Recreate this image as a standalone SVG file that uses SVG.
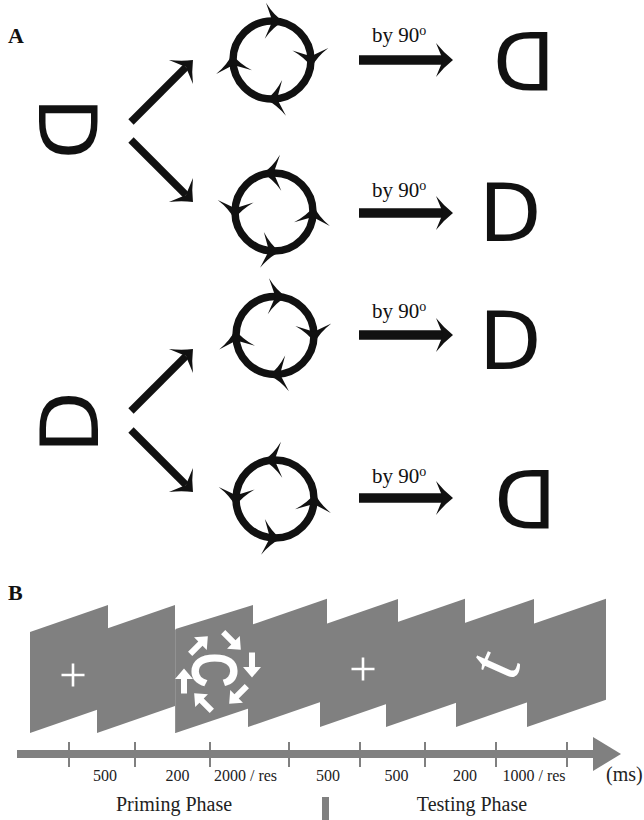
<svg xmlns="http://www.w3.org/2000/svg" width="644" height="820" viewBox="0 0 644 820">
<style>
.lab{font-family:"Liberation Serif",serif;font-weight:bold;font-size:22px;fill:#111}
.dg{font-family:"DejaVu Sans",sans-serif;font-size:81px;fill:#111}
.by{font-family:"Liberation Serif",serif;font-size:21px;fill:#111}
.ring{fill:none;stroke:#111;stroke-width:7.5}
.barb{fill:#111}
.shaft{stroke:#111;stroke-width:7.5;fill:none;marker-end:url(#head)}
.hshaft{stroke:#111;stroke-width:9.5;fill:none;marker-end:url(#head)}
.panel{fill:#808080}
.plus{stroke:#fff;stroke-width:2.6;fill:none}
.warr{fill:#fff}
.tick{stroke:#808080;stroke-width:2}
.num{font-family:"Liberation Serif",serif;font-size:16px;fill:#222;text-anchor:middle}
.phase{font-family:"Liberation Serif",serif;font-size:20px;fill:#222}
</style>
<defs>
<marker id="head" markerUnits="userSpaceOnUse" viewBox="-20 -20 40 40" markerWidth="40" markerHeight="40" refX="-10" refY="0" orient="auto" overflow="visible">
<path d="M0,0 Q-9,-7 -17,-17 L-10,0 L-17,17 Q-9,7 0,0 Z" fill="#111"/>
</marker>
<path id="barb" class="barb" d="M10,0 Q0,-6 -8,-18 L-1,0 L-8,18 Q0,6 10,0 Z"/>
<g id="cw">
<circle class="ring" cx="0" cy="0" r="39"/>
<use href="#barb" transform="rotate(-88) translate(39 0) rotate(90)"/>
<use href="#barb" transform="rotate(-4) translate(39 0) rotate(90)"/>
<use href="#barb" transform="rotate(84) translate(39 0) rotate(90)"/>
<use href="#barb" transform="rotate(174) translate(39 0) rotate(90)"/>
</g>
<path id="warrow" d="M-3,12.5 V-2 H-9 L0,-12.5 L9,-2 H3 V12.5 Z"/>
</defs>

<!-- Panel A -->
<text class="lab" x="8" y="43">A</text>

<g id="d-left-1"><text class="dg" x="35.2" y="159.5" transform="rotate(90 68 130)">D</text></g>
<g id="d-left-2"><text class="dg" x="35.8" y="450" transform="rotate(-90 68.8 420.5)">D</text></g>

<g id="rot-1"><use href="#cw" transform="translate(272 60)"/></g>
<g id="rot-2"><use href="#cw" transform="translate(274 212) scale(-1 1)"/></g>
<g id="rot-3"><use href="#cw" transform="translate(275 335.5)"/></g>
<g id="rot-4"><use href="#cw" transform="translate(275 499) scale(-1 1)"/></g>

<g id="d-right-1"><text class="dg" x="489.7" y="90.7" transform="rotate(180 522.5 61.2)">D</text></g>
<g id="d-right-2"><text class="dg" x="478.9" y="240.7">D</text></g>
<g id="d-right-3"><text class="dg" x="478.9" y="369.2">D</text></g>
<g id="d-right-4"><text class="dg" x="491" y="529.2" transform="rotate(180 523.8 499.7)">D</text></g>

<g id="connectors">
<line class="shaft" x1="131" y1="122" x2="185.9" y2="67.1"/>
<line class="shaft" x1="131" y1="140" x2="185.9" y2="194.9"/>
<line class="shaft" x1="131" y1="411" x2="185.9" y2="356.1"/>
<line class="shaft" x1="131" y1="430" x2="185.9" y2="484.9"/>
<line class="hshaft" x1="359" y1="60" x2="443" y2="60"/>
<line class="hshaft" x1="359" y1="213" x2="443" y2="213"/>
<line class="hshaft" x1="359" y1="335" x2="443" y2="335"/>
<line class="hshaft" x1="359" y1="498" x2="443" y2="498"/>
<text class="by" x="372" y="42">by 90<tspan dy="-7" font-size="14">o</tspan></text>
<text class="by" x="372" y="196.5">by 90<tspan dy="-7" font-size="14">o</tspan></text>
<text class="by" x="372" y="318">by 90<tspan dy="-7" font-size="14">o</tspan></text>
<text class="by" x="372" y="482.5">by 90<tspan dy="-7" font-size="14">o</tspan></text>
</g>

<!-- Panel B -->
<text class="lab" x="8" y="600">B</text>
<g id="frames">
<polygon class="panel" points="30,632 108,605 108,706 30,733"/>
<polygon class="panel" points="97,632 175,605 175,706 97,733"/>
<polygon class="panel" points="175.5,629 253,605 253,707 175.5,733"/>
<line x1="175.5" y1="630" x2="175.5" y2="733" stroke="#929292" stroke-width="1"/>
<polygon class="panel" points="248,626 327,598.7 327,699.7 248,727"/>
<polygon class="panel" points="320,626 398,599 398,700 320,727"/>
<polygon class="panel" points="386,626 465,598.7 465,699.7 386,727"/>
<polygon class="panel" points="456,626 534,599 534,700 456,727"/>
<polygon class="panel" points="527,626 606,598.7 606,699.7 527,727"/>
</g>
<g id="stimuli">
<path class="plus" d="M61.5,675 H84.5 M73,663.5 V686.5"/>
<path class="plus" d="M351.5,669 H374.5 M363,657.5 V680.5"/>
<text x="0" y="23.5" font-family="Liberation Sans, sans-serif" font-weight="bold" font-size="65" fill="#fff" text-anchor="middle" transform="translate(216 670) rotate(90) scale(0.75 1)">C</text>
<use href="#warrow" class="warr" transform="translate(199 645) rotate(45)"/>
<use href="#warrow" class="warr" transform="translate(232 641) rotate(135)"/>
<use href="#warrow" class="warr" transform="translate(252 665) rotate(180)"/>
<use href="#warrow" class="warr" transform="translate(238 695) rotate(225)"/>
<use href="#warrow" class="warr" transform="translate(203 702) rotate(315)"/>
<use href="#warrow" class="warr" transform="translate(184 681)"/>
<text x="-11.4" y="22.6" font-family="Liberation Serif, serif" font-size="78" fill="#fff" transform="translate(496.5 664.5) rotate(-66)">t</text>
</g>
<g id="timeline">
<rect x="17" y="750" width="577" height="8" fill="#808080"/>
<polygon points="593,737 621,754 593,771" fill="#808080"/>
<line class="tick" x1="69" y1="742" x2="69" y2="767"/>
<line class="tick" x1="135" y1="742" x2="135" y2="767"/>
<line class="tick" x1="210" y1="742" x2="210" y2="767"/>
<line class="tick" x1="289" y1="742" x2="289" y2="767"/>
<line class="tick" x1="360" y1="742" x2="360" y2="767"/>
<line class="tick" x1="425" y1="742" x2="425" y2="767"/>
<line class="tick" x1="496" y1="742" x2="496" y2="767"/>
<line class="tick" x1="567" y1="742" x2="567" y2="767"/>
<text class="num" x="105" y="781">500</text>
<text class="num" x="177.5" y="781">200</text>
<text class="num" x="245.5" y="781">2000 / res</text>
<text class="num" x="328" y="781">500</text>
<text class="num" x="396.5" y="781">500</text>
<text class="num" x="465" y="781">200</text>
<text class="num" x="534" y="781">1000 / res</text>
<text class="phase" x="606" y="781">(ms)</text>
<text class="phase" x="174" y="811" text-anchor="middle">Priming Phase</text>
<text class="phase" x="472" y="811" text-anchor="middle">Testing Phase</text>
<rect x="322" y="797" width="7" height="23" fill="#808080"/>
</g>
</svg>
